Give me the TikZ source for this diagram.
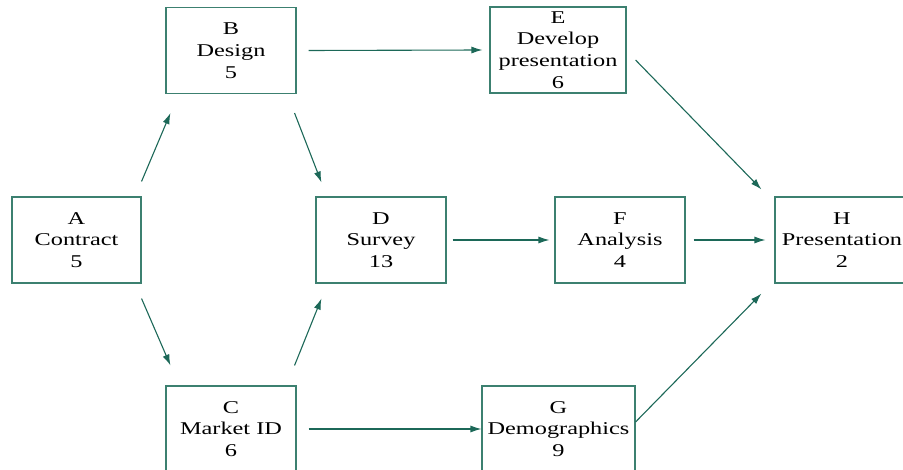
\documentclass[tikz,border=0pt]{standalone}
\usepackage{fontspec}
\setmainfont[FakeStretch=1.35]{Liberation Serif}
\usetikzlibrary{arrows.meta}
\definecolor{pertgreen}{RGB}{28,104,88}
\definecolor{pertbox}{RGB}{60,128,112}

\begin{document}
\begin{tikzpicture}[x=1pt,y=-1pt,
  task/.style={draw=pertbox,line width=1.1pt,inner sep=0pt,minimum height=86pt,
    align=center,font=\fontsize{18}{21.7}\selectfont},
  link/.style={draw=pertgreen,line width=1.1pt,-{Latex[length=11pt,width=7pt]}}]
%  \draw[gray] (0,0) rectangle (903,470);
  \clip (0,0) rectangle (903,470);
  \node[task,minimum width=129pt] (A) at ( 76.5,240.0) {A\\Contract\\5};
  \node[task,minimum width=130pt] (B) at (231.0, 50.5) {B\\Design\\5};
  \node[task,minimum width=130pt] (C) at (231.0,429.0) {C\\Market ID\\6};
  \node[task,minimum width=130pt] (D) at (381.0,240.0) {D\\Survey\\13};
  \node[task,minimum width=136pt] (E) at (558.0, 50.0) {E\\Develop\\presentation\\6};
  \node[task,minimum width=130pt] (F) at (620.0,240.0) {F\\Analysis\\4};
  \node[task,minimum width=153pt] (G) at (558.5,429.0) {G\\Demographics\\9};
  \node[task,minimum width=134pt] (H) at (842.0,240.0) {H\\Presentation\\2};
  \draw[link] ([shift={( 0,-15)}]A.north east) -- ([shift={( 5, 19)}]B.south west);
  \draw[link] ([shift={( 0, 15)}]A.south east) -- ([shift={( 5,-20)}]C.north west);
  \draw[link] ([shift={(-2, 19)}]B.south east) -- ([shift={( 6,-14)}]D.north west);
  \draw[link] ([shift={(-2,-20)}]C.north east) -- ([shift={( 6, 15)}]D.south west);
  \draw[link] ([xshift=12pt]B.east) -- ([xshift=-7pt]E.west);
  \draw[link] ([xshift=12pt]C.east) -- (G.west);
  \draw[link] ([xshift=6pt]D.east) -- ([xshift=-5pt]F.west);
  \draw[link] ([xshift=8pt]F.east) -- ([xshift=-9pt]H.west);
  \draw[link] ([shift={( 9, 10)}]E.east) -- ([shift={(-13,-7)}]H.north west);
  \draw[link] ([shift={( 0, -7)}]G.east) -- ([shift={(-13,10)}]H.south west);
\end{tikzpicture}
\end{document}
